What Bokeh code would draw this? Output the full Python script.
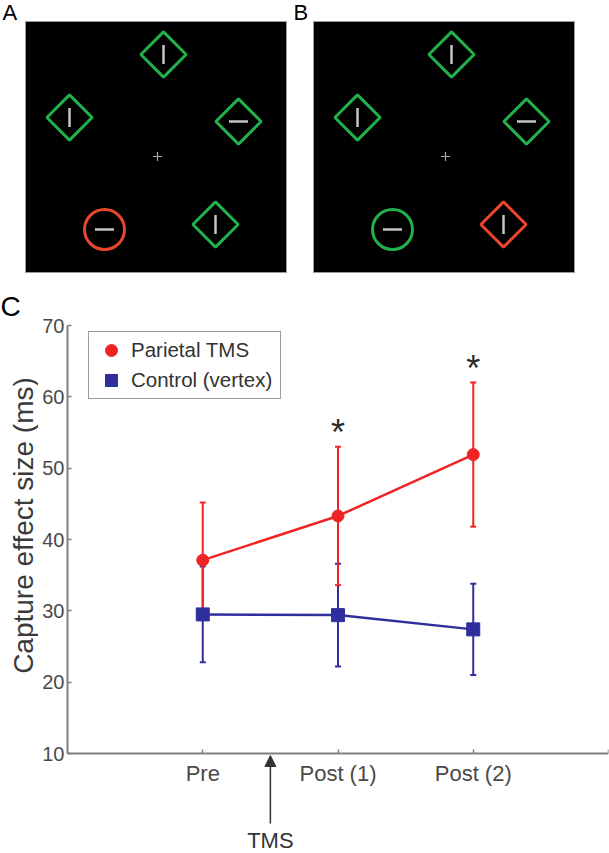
import numpy as np
from bokeh.plotting import figure
from bokeh.layouts import column, row
from bokeh.models import (Range1d, FixedTicker, Legend, LegendItem, Arrow,
                          NormalHead)
from bokeh.core.properties import value
from bokeh.embed import file_html
from bokeh.resources import INLINE

# ---------------- Panel C data ----------------
conditions = ["Pre", "Post (1)", "Post (2)"]
cond_x = [1, 2, 3]
parietal_mean = [37.1, 43.3, 51.9]
parietal_err = [8.1, 9.7, 10.1]
control_mean = [29.5, 29.4, 27.4]
control_err = [6.7, 7.2, 6.4]
significant = [False, True, True]
y_ticks = [10, 20, 30, 40, 50, 60, 70]
tms_x = 1.5

# ---------------- Stimulus displays (panel px, origin top-left) ----------------
item_x = [138, 44, 213, 190, 79]
item_y = [33, 96, 100, 203, 208]
item_shape = ["diamond", "diamond", "diamond", "diamond", "circle"]
item_bar = ["v", "v", "h", "v", "h"]
colors_A = ["green", "green", "green", "green", "red"]
colors_B = ["green", "green", "green", "red", "green"]
fixation = (132, 135)

FONT = "Liberation Sans"
GREEN = "#21b04a"
SRED = "#e8472e"
PW, PH = 261, 251
TOP_H = 288


def stim_fig(width, x0, colors, label, label_x):
    p = figure(width=width, height=TOP_H, x_range=Range1d(x0, x0 + width),
               y_range=Range1d(TOP_H - 21, -21), output_backend="svg",
               toolbar_location=None, min_border=0,
               x_axis_location=None, y_axis_location=None)
    p.grid.visible = False
    p.outline_line_color = None
    p.quad(left=[0], right=[PW], top=[0], bottom=[PH], fill_color="black",
           line_color="#9a9a9a", line_width=1)
    col = [GREEN if c == "green" else SRED for c in colors]
    markers = ["square" if s == "diamond" else "circle" for s in item_shape]
    angles = [np.pi / 4 if s == "diamond" else 0.0 for s in item_shape]
    sizes = [32 if s == "diamond" else 40 for s in item_shape]
    p.scatter(x=item_x, y=item_y, marker=markers, angle=angles, size=sizes,
              fill_color=None, line_color=col, line_width=3)
    bar_ang = [np.pi / 2 if b == "v" else 0.0 for b in item_bar]
    p.scatter(x=item_x, y=item_y, marker="dash", angle=bar_ang, size=19,
              line_color="#c4c4c4", line_width=2.5)
    p.scatter(x=[fixation[0]], y=[fixation[1]], marker="cross", size=9,
              line_color="#a8a8a8", line_width=1.2)
    p.text(x=[label_x], y=[-9], text=[label], text_font=value(FONT),
           text_font_size="22px", text_baseline="alphabetic",
           text_color="black")
    return p


figA = stim_fig(290, -25, colors_A, "A", -23)
figB = stim_fig(319, -23, colors_B, "B", -20)

# ---------------- Panel C geometry ----------------
RED = "#f02424"
BLUE = "#2e2e9c"
C_H = 564            # height of panel C row
FRAME_TOP = 37       # px from top of row to y=70
PX_PER = 428 / 60.0  # px per ms
LEFT_W = 38
y_end = 70 + FRAME_TOP / PX_PER
y_start = 70 - (C_H - FRAME_TOP) / PX_PER
yr = Range1d(y_start, y_end)

p = figure(width=609 - LEFT_W, height=C_H, x_range=Range1d(0, 4), y_range=yr,
           output_backend="svg", toolbar_location=None,
           min_border_left=67 - LEFT_W, min_border_right=1, min_border_top=0,
           min_border_bottom=0)
p.grid.visible = False
p.outline_line_color = None

p.xaxis.fixed_location = y_ticks[0]
p.xaxis.bounds = (0, 4)
p.yaxis.bounds = (y_ticks[0], y_ticks[-1])
p.xaxis.ticker = FixedTicker(ticks=[0, 1, 2, 3, 4])
p.xaxis.major_label_overrides = {0: "", 1: conditions[0], 2: conditions[1],
                                 3: conditions[2], 4: ""}
p.yaxis.ticker = FixedTicker(ticks=y_ticks)
p.axis.major_tick_in = 4
p.axis.major_tick_out = 0
p.axis.minor_tick_line_color = None
p.axis.axis_line_color = "#808080"
p.axis.axis_line_width = 2
p.axis.major_tick_line_color = "#808080"
p.axis.major_tick_line_width = 1.5
p.axis.major_label_text_font = FONT
p.axis.major_label_text_color = "#4a4a4a"
p.yaxis.major_label_text_font_size = "20px"
p.xaxis.major_label_text_font_size = "22px"
p.yaxis.major_label_standoff = 3
p.xaxis.major_label_standoff = 7

c_lo = [m - e for m, e in zip(control_mean, control_err)]
c_hi = [m + e for m, e in zip(control_mean, control_err)]
r_lo = [m - e for m, e in zip(parietal_mean, parietal_err)]
r_hi = [m + e for m, e in zip(parietal_mean, parietal_err)]

# control (blue) line and error bars
p.line(cond_x, control_mean, line_color=BLUE, line_width=2.5)
p.segment(x0=cond_x, y0=c_lo, x1=cond_x, y1=c_hi, line_color=BLUE, line_width=2)
p.scatter(x=cond_x + cond_x, y=c_lo + c_hi, marker="dash", size=6,
          line_color=BLUE, line_width=2)
# parietal (red) line and error bars
p.line(cond_x, parietal_mean, line_color=RED, line_width=2.5)
p.segment(x0=cond_x, y0=r_lo, x1=cond_x, y1=r_hi, line_color=RED, line_width=2)
p.scatter(x=cond_x + cond_x, y=r_lo + r_hi, marker="dash", size=6,
          line_color=RED, line_width=2)
red_pts = p.scatter(x=cond_x, y=parietal_mean, marker="circle", size=12,
                    fill_color=RED, line_color=RED)
blue_pts = p.scatter(x=cond_x, y=control_mean, marker="square", size=13,
                     fill_color=BLUE, line_color=BLUE)

# significance asterisks
star_x = [x for x, s in zip(cond_x, significant) if s]
star_y = [h + 2.0 for h, s in zip(r_hi, significant) if s]
p.text(x=star_x, y=star_y, text=["*"] * len(star_x), text_align="center",
       text_baseline="alphabetic", text_font=value(FONT),
       text_font_size="36px", text_color="#2a2a2a")

legend = Legend(items=[LegendItem(label="Parietal TMS", renderers=[red_pts]),
                       LegendItem(label="Control (vertex)", renderers=[blue_pts])],
                location=(21, C_H - 111), orientation="vertical")
legend.label_text_font = FONT
legend.label_text_font_size = "20.5px"
legend.label_text_color = "#333333"
legend.border_line_color = "#3a3a3a"
legend.border_line_width = 1.5
legend.background_fill_color = "white"
legend.background_fill_alpha = 1.0
legend.padding = 3
legend.spacing = -2
legend.margin = 0
legend.glyph_width = 38
legend.glyph_height = 30
legend.label_standoff = 1
legend.label_width = 146
p.add_layout(legend)

# TMS arrow and label below the axis
tip_y = y_ticks[0] - 2 / PX_PER
tail_y = y_ticks[0] - 70 / PX_PER
p.add_layout(Arrow(end=NormalHead(size=11, fill_color="#333333", line_color="#333333"),
                   x_start=tms_x, y_start=tail_y, x_end=tms_x, y_end=tip_y,
                   line_color="#333333", line_width=1.5))
p.text(x=[tms_x], y=[y_ticks[0] - 87 / PX_PER], text=["TMS"], text_align="center",
       text_baseline="alphabetic", text_font=value(FONT),
       text_font_size="22px", text_color="#333333")

# left strip: panel letter and y-axis title
figL = figure(width=LEFT_W, height=C_H, x_range=Range1d(0, LEFT_W), y_range=yr,
              output_backend="svg", toolbar_location=None, min_border=0,
              x_axis_location=None, y_axis_location=None)
figL.grid.visible = False
figL.outline_line_color = None
figL.text(x=[0], y=[70 + 19 / PX_PER], text=["C"], text_font=value(FONT),
          text_font_size="28px", text_baseline="alphabetic", text_color="black")
figL.text(x=[22.5], y=[10 + 228 / PX_PER], text=["Capture effect size (ms)"],
          angle=np.pi / 2, text_align="center", text_baseline="alphabetic",
          text_font=value(FONT), text_font_size="28px", text_color="#3a3a3a")

layout = column(row(figA, figB), row(figL, p))
open("out.html", "w").write(file_html(layout, INLINE))
